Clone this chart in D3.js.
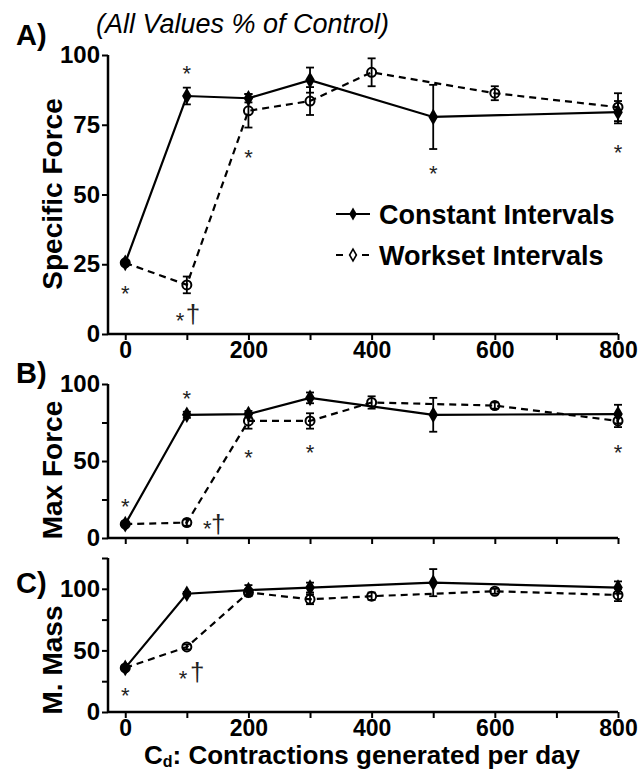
<!DOCTYPE html>
<html>
<head>
  <script src="https://d3js.org/d3.v7.min.js"></script>
  <style>
    body { margin: 0; background: #fff; font-family: "Liberation Sans", Arial, sans-serif; }
    .tick text { font-weight: bold; }
  </style>
</head>
<body>
<div id="chart"></div>
<script>
// x positions (contractions per day)
const xConst = [0, 100, 200, 300, 500, 800];
const xWork = [0, 100, 200, 300, 400, 600, 800];

// A) specific force
const aConst = [25.5, 85.3, 84.5, 91, 77.8, 79.5];
const aConstErr = [0.5, 3, 1.5, 4.5, 11.5, 4];
const aWork = [25.5, 17.6, 80, 83.5, 93.8, 86.3, 81.3];
const aWorkErr = [0.5, 3, 6, 5, 5, 2.5, 5];

// B) max force
const bConst = [9, 80, 80.5, 91, 80, 80.5];
const bConstErr = [0.5, 2, 2, 3.5, 11, 6];
const bWork = [9, 10, 76, 76, 88, 86, 76];
const bWorkErr = [0.5, 2, 5, 5, 4, 2, 4];

// C) muscle mass
const cConst = [35.8, 96, 99, 101, 105, 101];
const cConstErr = [1, 1.5, 4, 4, 11, 5];
const cWork = [35.8, 52.8, 97, 91.5, 94, 98, 95];
const cWorkErr = [1, 2, 3, 4, 3, 2, 5];

// significance marks: [x, y value, text]
const aStars = [[0, 16.5, "*"], [100, 95.3, "*"], [200, 65.2, "*"], [500, 59.5, "*"], [800, 67, "*"], [89, 6.8, "*"], [110, 7, "†"]];
const bStars = [[0, 24, "*"], [100, 94, "*"], [200, 56, "*"], [300, 59, "*"], [800, 59, "*"], [133, 9.7, "*"], [151, 9, "†"]];
const cStars = [[0, 17.9, "*"], [94, 31.7, "*"], [117, 32.5, "†"]];

const xTicks = [0, 100, 200, 300, 400, 500, 600, 700, 800];
const xLabels = [0, 200, 400, 600, 800];

const width = 640, height = 770;
const svg = d3.select("#chart").append("svg")
  .attr("width", width).attr("height", height);

const x = d3.scaleLinear().domain([-28, 800]).range([108, 618]);

const panels = [
  { tag: "A)", tagY: 45, label: "Specific Force", labelY: 194, dom: [0, 100], range: [334, 55],
    ticks: [0, 25, 50, 75, 100], labels: [0, 25, 50, 75, 100], xlab: true,
    cons: aConst, consErr: aConstErr, work: aWork, workErr: aWorkErr, stars: aStars },
  { tag: "B)", tagY: 383, label: "Max Force", labelY: 470, dom: [0, 100], range: [538, 384],
    ticks: [0, 25, 50, 75, 100], labels: [0, 50, 100], xlab: false,
    cons: bConst, consErr: bConstErr, work: bWork, workErr: bWorkErr, stars: bStars },
  { tag: "C)", tagY: 593, label: "M. Mass", labelY: 660, dom: [0, 125], range: [712, 558],
    ticks: [0, 25, 50, 75, 100, 125], labels: [0, 50, 100], xlab: true,
    cons: cConst, consErr: cConstErr, work: cWork, workErr: cWorkErr, stars: cStars }
];

panels.forEach(p => {
  const y = d3.scaleLinear().domain(p.dom).range(p.range);
  const g = svg.append("g");

  // axes
  const ya = g.append("g").attr("transform", "translate(108,0)")
    .call(d3.axisLeft(y).tickValues(p.ticks).tickSize(6).tickPadding(2)
      .tickFormat(d => p.labels.includes(d) ? d : ""));
  const xa = g.append("g").attr("transform", `translate(0,${p.range[0]})`)
    .call(d3.axisBottom(x).tickValues(xTicks).tickSize(6).tickPadding(2)
      .tickFormat(d => p.xlab && xLabels.includes(d) ? d : ""));
  [ya, xa].forEach(a => {
    a.select(".domain").attr("stroke-width", 2.5);
    a.selectAll(".tick line").attr("stroke-width", 2);
    a.selectAll("text").attr("font-size", 24).attr("fill", "#000")
      .attr("font-family", "'Liberation Sans', Arial, sans-serif");
  });
  xa.selectAll("text").attr("font-size", 23);
  xa.select(".domain").attr("d", `M108,0H618`);
  ya.select(".domain").attr("d", `M0,${p.range[1]}V${p.range[0]}`);

  // panel tag and y label
  g.append("text").attr("x", 16).attr("y", p.tagY)
    .attr("font-size", 29).attr("font-weight", "bold").text(p.tag);
  g.append("text")
    .attr("transform", `translate(62,${p.labelY}) rotate(-90)`)
    .attr("text-anchor", "middle").attr("font-size", 28).attr("font-weight", "bold")
    .text(p.label);

  const cons = xConst.map((v, i) => ({ x: v, y: p.cons[i], e: p.consErr[i] }));
  const work = xWork.map((v, i) => ({ x: v, y: p.work[i], e: p.workErr[i] }));
  const line = d3.line().x(d => x(d.x)).y(d => y(d.y));

  g.append("path").datum(work).attr("d", line)
    .attr("fill", "none").attr("stroke", "#000").attr("stroke-width", 2.2)
    .attr("stroke-dasharray", "7,5");
  g.append("path").datum(cons).attr("d", line)
    .attr("fill", "none").attr("stroke", "#000").attr("stroke-width", 2.2);

  // error bars
  [cons, work].forEach(s => {
    const eb = g.append("g").selectAll("g").data(s).join("g")
      .attr("stroke", "#000").attr("stroke-width", 1.8);
    eb.append("line").attr("x1", d => x(d.x)).attr("x2", d => x(d.x))
      .attr("y1", d => y(d.y - d.e)).attr("y2", d => y(d.y + d.e));
    eb.append("line").attr("x1", d => x(d.x) - 4).attr("x2", d => x(d.x) + 4)
      .attr("y1", d => y(d.y - d.e)).attr("y2", d => y(d.y - d.e));
    eb.append("line").attr("x1", d => x(d.x) - 4).attr("x2", d => x(d.x) + 4)
      .attr("y1", d => y(d.y + d.e)).attr("y2", d => y(d.y + d.e));
  });

  // markers
  g.append("g").selectAll("circle").data(work).join("circle")
    .attr("cx", d => x(d.x)).attr("cy", d => y(d.y)).attr("r", 4.5)
    .attr("fill", "none").attr("stroke", "#000").attr("stroke-width", 2);
  g.append("g").selectAll("path").data(cons).join("path")
    .attr("transform", d => `translate(${x(d.x)},${y(d.y)})`)
    .attr("d", d3.symbol().type(d3.symbolDiamond).size(80))
    .attr("fill", "#000");

  // stars
  g.append("g").selectAll("text").data(p.stars).join("text")
    .attr("x", d => x(d[0])).attr("y", d => y(d[1]) + (d[2] === "*" ? 13 : 9))
    .attr("text-anchor", "middle")
    .attr("font-size", d => d[2] === "*" ? 22 : 26)
    .attr("fill", "#222")
    .text(d => d[2]);
});

// title note
svg.append("text").attr("x", 96).attr("y", 33)
  .attr("font-size", 27).attr("font-style", "italic").text("(All Values % of Control)");

// legend
const legend = [["Constant Intervals", 224, false], ["Workset Intervals", 265, true]];
legend.forEach(([t, ly, dashed]) => {
  const lg = svg.append("g");
  lg.append("line").attr("x1", 336).attr("x2", 370).attr("y1", ly - 10).attr("y2", ly - 10)
    .attr("stroke", "#000").attr("stroke-width", 2.2)
    .attr("stroke-dasharray", dashed ? "7,6" : null);
  if (dashed) {
    lg.append("rect").attr("x", 347).attr("y", ly - 16).attr("width", 12).attr("height", 12).attr("fill", "#fff");
    lg.append("path").attr("transform", `translate(353,${ly - 10})`)
      .attr("d", d3.symbol().type(d3.symbolDiamond).size(40))
      .attr("fill", "#fff").attr("stroke", "#000").attr("stroke-width", 1.6);
  } else {
    lg.append("path").attr("transform", `translate(353,${ly - 10})`)
      .attr("d", d3.symbol().type(d3.symbolDiamond).size(50)).attr("fill", "#000");
  }
  lg.append("text").attr("x", 379).attr("y", ly)
    .attr("font-size", 27).attr("font-weight", "bold").text(t);
});

// x axis title
const xt = svg.append("text").attr("x", 362).attr("y", 764)
  .attr("text-anchor", "middle").attr("font-size", 26).attr("font-weight", "bold");
xt.append("tspan").text("C");
xt.append("tspan").attr("font-size", 16).attr("dy", 3).text("d");
xt.append("tspan").attr("dy", -3).text(": Contractions generated per day");
</script>
</body>
</html>
